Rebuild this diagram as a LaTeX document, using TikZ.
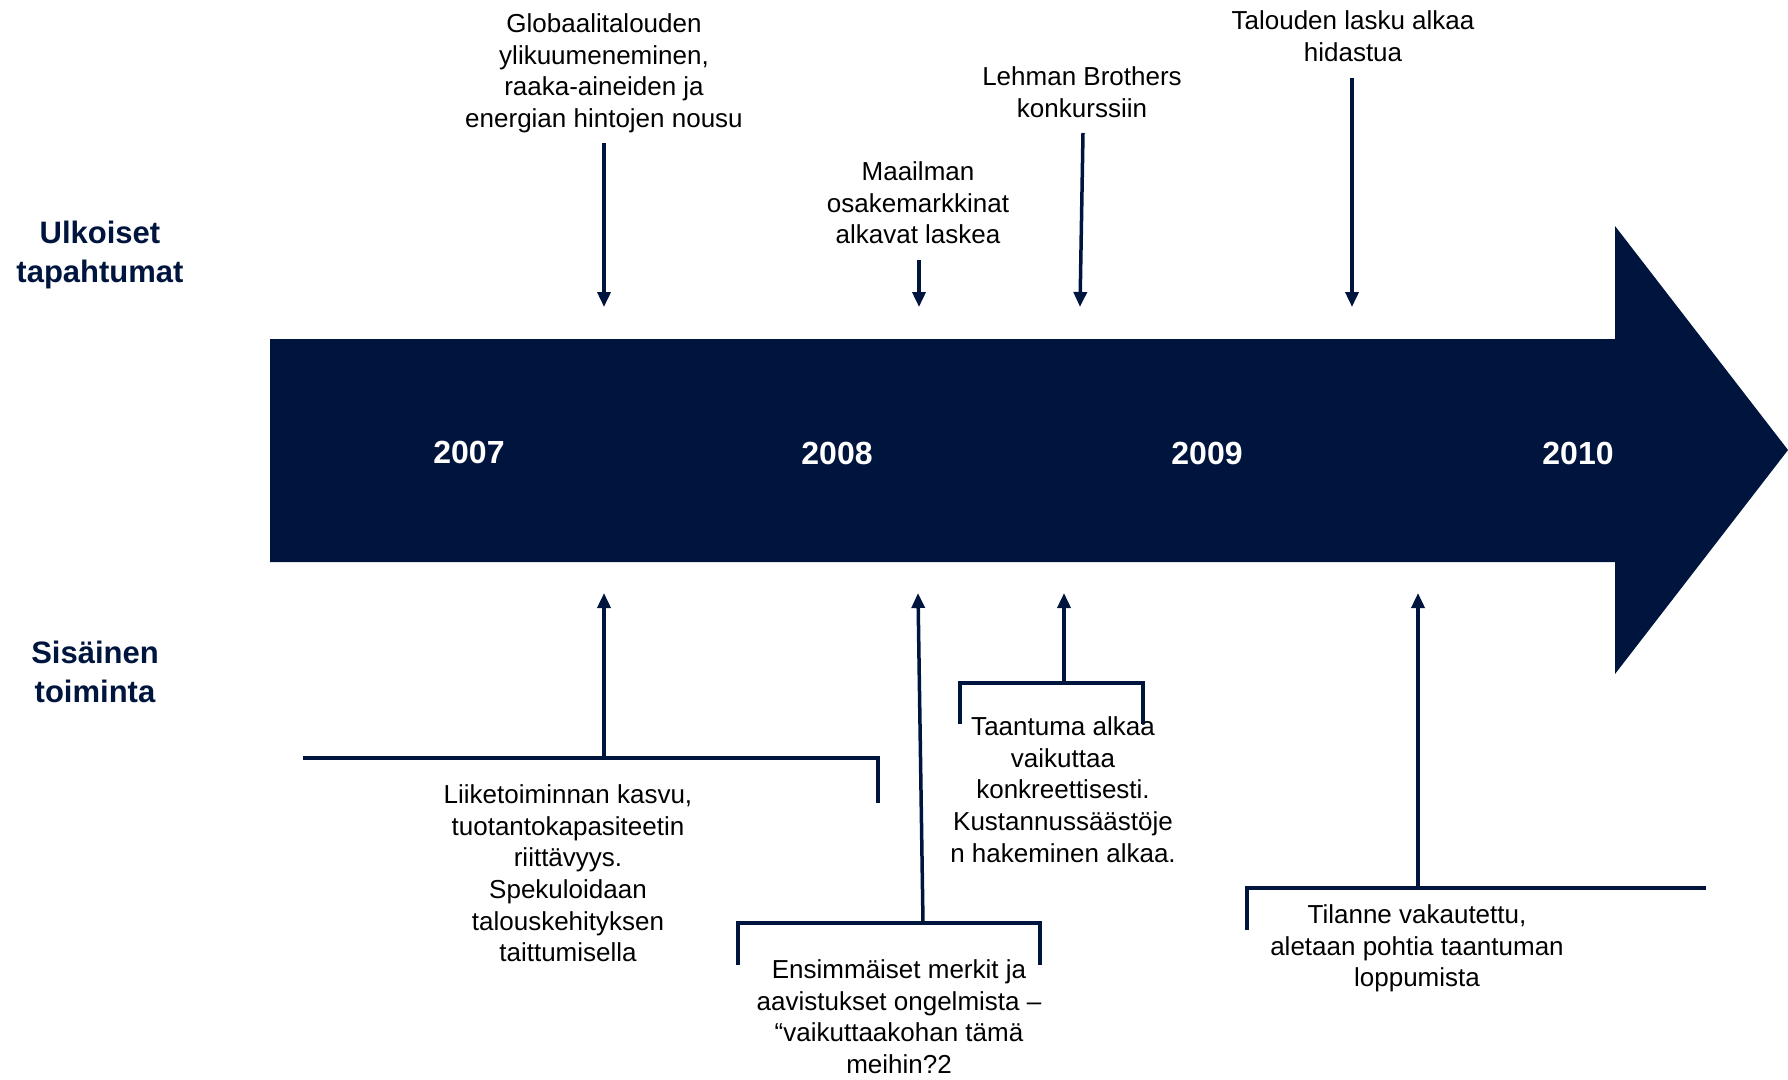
\documentclass[tikz,border=0pt]{standalone}
\usepackage{fontspec}
\setmainfont{Liberation Sans}
\usetikzlibrary{arrows.meta}
\definecolor{navy}{RGB}{0,21,62}
\begin{document}
\begin{tikzpicture}[x=1pt,y=-1pt,
  lbl/.style={font=\fontsize{26}{31.7}\selectfont, align=center, anchor=north, inner sep=0pt, text=black},
  head/.style={font=\fontsize{31}{39}\selectfont\bfseries, align=center, anchor=north, inner sep=0pt, text=navy},
  yr/.style={font=\fontsize{32}{38}\selectfont\bfseries, text=white, inner sep=0pt},
  evarrow/.style={draw=navy, line width=3.5pt, -{Triangle[length=15pt,width=13pt]}},
  brk/.style={draw=navy, line width=4pt}]
\useasboundingbox (0,0) rectangle (1788,1079);
% timeline arrow
\fill[navy] (270,339) -- (1615,339) -- (1615,226) -- (1788,450) -- (1615,674) -- (1615,562) -- (270,562) -- cycle;
\node[yr] (y7) at (469,452) {2007};
\node[yr] (y8) at (837,453) {2008};
\node[yr] (y9) at (1207,453) {2009};
\node[yr] (y10) at (1578,453) {2010};
% headings
\node[head] (h1) at (100,221) {Ulkoiset\\tapahtumat};
\node[head] (h2) at (95,640.5) {Sisäinen\\toiminta};
% external events
\node[lbl] (t1) at (604,13.4) {Globaalitalouden\\ylikuumeneminen,\\raaka-aineiden ja\\energian hintojen nousu};
\node[lbl] (t2) at (918,161.4) {Maailman\\osakemarkkinat\\alkavat laskea};
\node[lbl] (t3) at (1082,66.4) {Lehman Brothers\\konkurssiin};
\node[lbl] (t4) at (1353,10.4) {Talouden lasku alkaa\\hidastua};
\coordinate (a1s) at (604,143);  \coordinate (a1e) at (604,307);
\coordinate (a2s) at (919,260);  \coordinate (a2e) at (919,307);
\coordinate (a3s) at (1083,133); \coordinate (a3e) at (1080,307);
\coordinate (a4s) at (1352,78);  \coordinate (a4e) at (1352,307);
\draw[evarrow] (a1s) -- (a1e);
\draw[evarrow] (a2s) -- (a2e);
\draw[evarrow] (a3s) -- (a3e);
\draw[evarrow] (a4s) -- (a4e);
% internal actions
\node[lbl] (l1) at (568,784.4) {Liiketoiminnan kasvu,\\tuotantokapasiteetin\\riittävyys.\\Spekuloidaan\\talouskehityksen\\taittumisella};
\node[lbl] (l2) at (899,959.4) {Ensimmäiset merkit ja\\aavistukset ongelmista –\\“vaikuttaakohan tämä\\meihin?2};
\node[lbl] (l3) at (1063,716.4) {Taantuma alkaa\\vaikuttaa\\konkreettisesti.\\Kustannussäästöje\\n hakeminen alkaa.};
\node[lbl] (l4) at (1417,904.4) {Tilanne vakautettu,\\aletaan pohtia taantuman\\loppumista};
% brackets
\coordinate (b1l) at (303,758); \coordinate (b1r) at (878,758); \coordinate (b1d) at (878,803);
\draw[brk] (b1l) -- (b1r) -- (b1d);
\coordinate (b2a) at (738,965); \coordinate (b2b) at (738,923); \coordinate (b2c) at (1040,923); \coordinate (b2d) at (1040,965);
\draw[brk] (b2a) -- (b2b) -- (b2c) -- (b2d);
\coordinate (b3a) at (960,724); \coordinate (b3b) at (960,683); \coordinate (b3c) at (1143,683); \coordinate (b3d) at (1143,724);
\draw[brk] (b3a) -- (b3b) -- (b3c) -- (b3d);
\coordinate (b4a) at (1247,930); \coordinate (b4b) at (1247,888); \coordinate (b4c) at (1706,888);
\draw[brk] (b4a) -- (b4b) -- (b4c);
% upward arrows
\coordinate (u1s) at (604,758);  \coordinate (u1e) at (604,593);
\coordinate (u2s) at (923,923);  \coordinate (u2e) at (918,593);
\coordinate (u3s) at (1064,683); \coordinate (u3e) at (1064,593);
\coordinate (u4s) at (1418,888); \coordinate (u4e) at (1418,593);
\draw[evarrow] (u1s) -- (u1e);
\draw[evarrow] (u2s) -- (u2e);
\draw[evarrow] (u3s) -- (u3e);
\draw[evarrow] (u4s) -- (u4e);
\end{tikzpicture}
\end{document}
